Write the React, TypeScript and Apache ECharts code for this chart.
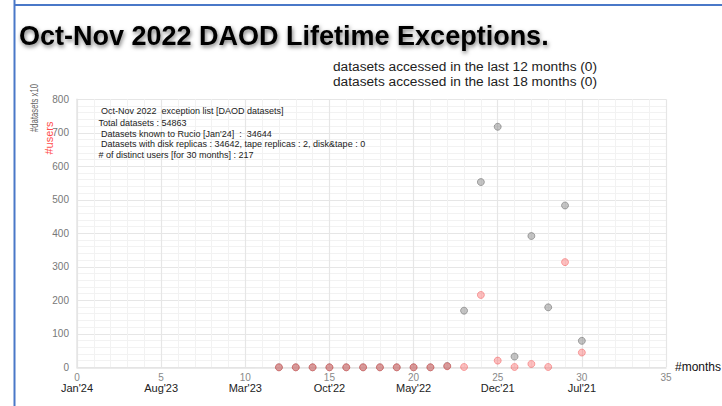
import React, { useEffect, useRef } from "react";
import * as echarts from "echarts";

const months = [12, 13, 14, 15, 16, 17, 18, 19, 20, 21, 22, 23, 24, 25, 26, 27, 28, 29, 30];
const datasetsX10 = [0, 0, 0, 0, 0, 0, 0, 0, 0, 0, 4, 169, 553, 718, 32, 392, 179, 483, 79];
const users = [0, 0, 0, 0, 0, 0, 0, 0, 0, 0, 3, 1, 216, 20, 1, 10, 1, 314, 44];
const tickMonths = [0, 5, 10, 15, 20, 25, 30, 35];
const tickDates = ["Jan'24", "Aug'23", "Mar'23", "Oct'22", "May'22", "Dec'21", "Jul'21", ""];
const titleText = "Oct-Nov 2022 DAOD Lifetime Exceptions.";
const legendLines = [
  "datasets accessed in the last 12 months (0)",
  "datasets accessed in the last 18 months (0)",
];
const infoLines = [
  " Oct-Nov 2022  exception list [DAOD datasets]",
  "Total datasets : 54863",
  " Datasets known to Rucio [Jan'24]  :  34644",
  " Datasets with disk replicas : 34642, tape replicas : 2, disk&tape : 0",
  "# of distinct users [for 30 months] : 217",
];

const FONT = "Liberation Sans, Arial, Helvetica, sans-serif";

export default function App() {
  const ref = useRef<HTMLDivElement>(null);
  useEffect(() => {
    if (!ref.current) return;
    const chart = echarts.init(ref.current, null, { renderer: "svg" });
    const infoY = [111, 122.5, 133.5, 144, 154.5];
    const infoX = [101, 98.5, 101, 101, 98.5];
    chart.setOption({
      animation: false,
      backgroundColor: "#ffffff",
      textStyle: { fontFamily: FONT },
      grid: { left: 77, right: 56, top: 99.3, bottom: 38.7, containLabel: false },
      xAxis: {
        type: "value",
        min: 0,
        max: 35,
        interval: 5,
        axisLine: { show: true, lineStyle: { color: "#e4e4e4", width: 1.5 } },
        axisTick: { show: false },
        minorTick: { show: false, splitNumber: 5 },
        splitLine: { show: true, lineStyle: { color: "#e6e6e6", width: 1.2 } },
        minorSplitLine: { show: true, lineStyle: { color: "#f2f2f2", width: 1 } },
        axisLabel: {
          margin: 5,
          formatter: (v: number) => {
            const i = tickMonths.indexOf(v);
            const d = i >= 0 ? tickDates[i] : "";
            return d ? `{n|${v}}\n{d|${d}}` : `{n|${v}}`;
          },
          rich: {
            n: { fontSize: 10, color: "#888888", lineHeight: 10, fontFamily: FONT },
            d: { fontSize: 11, color: "#222222", lineHeight: 11, fontFamily: FONT },
          },
        },
      },
      yAxis: {
        type: "value",
        min: 0,
        max: 800,
        interval: 100,
        axisLine: { show: true, lineStyle: { color: "#e4e4e4", width: 1.5 } },
        axisTick: { show: false },
        minorTick: { show: false, splitNumber: 5 },
        splitLine: { show: true, lineStyle: { color: "#e6e6e6", width: 1.2 } },
        minorSplitLine: { show: true, lineStyle: { color: "#f2f2f2", width: 1 } },
        axisLabel: { margin: 8, fontSize: 10, color: "#777777", fontFamily: FONT },
      },
      series: [
        {
          type: "scatter",
          name: "#datasets x10",
          data: months.map((m, i) => [m, datasetsX10[i]]),
          symbolSize: 7,
          itemStyle: {
            color: "rgba(120,120,120,0.55)",
            borderColor: "rgba(90,90,90,0.6)",
            borderWidth: 1,
          },
          z: 2,
        },
        {
          type: "scatter",
          name: "#users",
          data: months.map((m, i) => [m, users[i]]),
          symbolSize: 7,
          itemStyle: {
            color: "rgba(250,95,95,0.5)",
            borderColor: "rgba(240,85,85,0.6)",
            borderWidth: 1,
          },
          z: 3,
        },
      ],
      graphic: [
        {
          type: "line",
          shape: { x1: 14.5, y1: 0, x2: 14.5, y2: 406 },
          style: { stroke: "#4a78c8", lineWidth: 2 },
        },
        {
          type: "line",
          shape: { x1: 14.5, y1: 5, x2: 722, y2: 5 },
          style: { stroke: "#4a78c8", lineWidth: 2 },
        },
        {
          type: "text",
          left: 19,
          top: 22,
          style: {
            text: titleText,
            font: `bold 27px ${FONT}`,
            fill: "#000000",
            textShadowColor: "rgba(0,0,0,0.55)",
            textShadowBlur: 4,
            textShadowOffsetX: 1,
            textShadowOffsetY: 2,
          },
        },
        ...legendLines.map((t, i) => ({
          type: "text",
          x: 333,
          y: 66 + i * 15,
          style: {
            text: t,
            font: `13.7px ${FONT}`,
            fill: "#222222",
            textVerticalAlign: "middle",
          },
        })),
        ...infoLines.map((t, i) => ({
          type: "text",
          x: infoX[i],
          y: infoY[i],
          z: 10,
          style: {
            text: t.trim(),
            font: `9px ${FONT}`,
            fill: "#222222",
            textVerticalAlign: "middle",
          },
        })),
        {
          type: "text",
          x: 33.5,
          y: 108,
          rotation: Math.PI / 2,
          scaleX: 0.7,
          style: {
            text: "#datasets x10",
            font: `11px ${FONT}`,
            fill: "#666666",
            textAlign: "center",
            textVerticalAlign: "middle",
          },
        },
        {
          type: "text",
          x: 49,
          y: 138,
          rotation: Math.PI / 2,
          style: {
            text: "#users",
            font: `11px ${FONT}`,
            fill: "#ff4d4d",
            textAlign: "center",
            textVerticalAlign: "middle",
          },
        },
        {
          type: "text",
          x: 675,
          y: 367,
          style: {
            text: "#months",
            font: `12px ${FONT}`,
            fill: "#111111",
            textVerticalAlign: "middle",
          },
        },
      ],
    });
    return () => chart.dispose();
  }, []);
  return (
    <div
      ref={ref}
      style={{ position: "fixed", left: 0, top: 0, width: 722, height: 406 }}
    />
  );
}
